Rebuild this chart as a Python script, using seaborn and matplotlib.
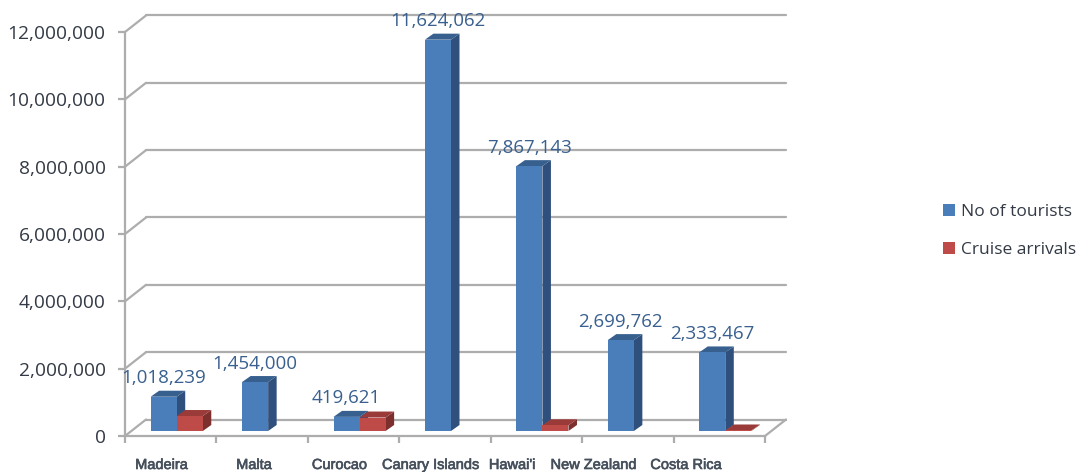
import numpy as np
import pandas as pd
import matplotlib
matplotlib.use("Agg")
import matplotlib.pyplot as plt
import matplotlib.patheffects as pe
from matplotlib.patches import Patch, Polygon
import seaborn as sns

categories = ["Madeira", "Malta", "Curocao", "Canary Islands", "Hawai'i", "New Zealand", "Costa Rica"]
tourists = [1018239, 1454000, 419621, 11624062, 7867143, 2699762, 2333467]
cruise = [445000, np.nan, 400000, np.nan, 170000, np.nan, 15000]
y_ticks = [0, 2000000, 4000000, 6000000, 8000000, 10000000, 12000000]
series_names = ["No of tourists", "Cruise arrivals"]

# horizontal nudges (px) of the category labels, as in the source image
x_label_shift = [-9, -8, -14, -14, -24, -34, -33]

W, H = 1084, 472
BLUE, BLUE_SIDE, BLUE_TOP = "#4A7EBB", "#2F4F7C", "#37608F"
RED, RED_SIDE, RED_TOP = "#BE4B48", "#7C2F2D", "#9A3B39"
GRID = "#ADADAD"
FONT = "Open Sans"

sns.set_theme(style="white")
plt.rcParams["font.family"] = [FONT, "DejaVu Sans"]
fig = plt.figure(figsize=(W / 100, H / 100), dpi=100, facecolor="white")


def rect(l, r, t, b):
    return [l / W, (H - b) / H, (r - l) / W, (b - t) / H]


# front plane of the 3-D box: holds the axis, ticks and walls
frame = fig.add_axes(rect(125, 765, 32, 436))
# bar plane, set slightly back into the box
ax = fig.add_axes(rect(131, 771, 27, 431))
ax.patch.set_alpha(0)

xlim = (-0.5, len(categories) - 0.5)
ylim = (0, 12000000)
px_x = (xlim[1] - xlim[0]) / 640
px_y = (ylim[1] - ylim[0]) / 404

# box frame
frame.set_xlim(xlim)
frame.set_ylim(ylim)
dx, dy = 21 * px_x, 16.5 * px_y
for v in y_ticks:
    frame.plot([xlim[0], xlim[0] + dx], [v, v + dy], color=GRID, lw=1.6, clip_on=False)
    frame.plot([xlim[0] + dx, xlim[1] + dx], [v + dy, v + dy], color=GRID, lw=1.6, clip_on=False)
frame.plot([xlim[1], xlim[1] + dx], [0, dy], color=GRID, lw=1.6, clip_on=False)
for name in ["top", "right"]:
    frame.spines[name].set_visible(False)
for name in ["left", "bottom"]:
    frame.spines[name].set_color(GRID)
    frame.spines[name].set_linewidth(1.6)
frame.set_yticks(y_ticks)
frame.set_yticklabels([f"{v:,}" for v in y_ticks], fontsize=13.8, color="#333A45")
frame.set_xticks(np.arange(xlim[0], xlim[1] + 0.5))
frame.set_xticklabels([])
frame.tick_params(axis="both", length=5, width=1.6, color=GRID, left=True, bottom=True)
frame.tick_params(axis="y", pad=9)
for i, name in enumerate(categories):
    frame.annotate(name, (i, 0), xytext=(x_label_shift[i] * 0.72, -29 * 0.72), textcoords="offset points",
                   ha="center", va="center", fontsize=10.5, color="#46505C",
                   family="Liberation Sans", annotation_clip=False,
                   path_effects=[pe.withStroke(linewidth=0.45, foreground="#46505C")])

# bars
df = pd.DataFrame({"category": categories, series_names[0]: tourists, series_names[1]: cruise})
long_df = df.melt(id_vars="category", var_name="series", value_name="value").dropna()
sns.barplot(data=long_df, x="category", y="value", hue="series", hue_order=series_names,
            order=categories, palette=[BLUE, RED], width=0.57, gap=0, saturation=1,
            legend=False, ax=ax)
ax.set_xlim(xlim)
ax.set_ylim(ylim)
ax.axis("off")

# 3-D side and top faces derived from each drawn bar
bx, by = 8.5 * px_x, 6 * px_y
for container, side, top, z in zip(ax.containers, (BLUE_SIDE, RED_SIDE), (BLUE_TOP, RED_TOP), (2.0, 2.4)):
    for bar in container:
        h = bar.get_height()
        if not h > 0:
            continue
        bar.set_zorder(3)
        bar.set_linewidth(0)
        x0, x1 = bar.get_x(), bar.get_x() + bar.get_width()
        ax.add_patch(Polygon([(x1, 0), (x1 + bx, by), (x1 + bx, h + by), (x1, h)],
                             closed=True, fc=side, ec="none", zorder=z, clip_on=False))
        ax.add_patch(Polygon([(x0, h), (x0 + bx, h + by), (x1 + bx, h + by), (x1, h)],
                             closed=True, fc=top, ec="none", zorder=z + 0.1, clip_on=False))

# data labels for the first series
for i, v in enumerate(tourists):
    x = i - 0.57 / 4
    ax.annotate(f"{v:,}", (x, v), xytext=(0, 18.5 * 0.72), textcoords="offset points",
                ha="center", va="center", fontsize=13.5, color="#39608F", zorder=6, annotation_clip=False)

handles = [Patch(fc=BLUE, ec="none"), Patch(fc=RED, ec="none")]
fig.legend(handles, series_names, loc="center left", bbox_to_anchor=(938 / W, 1 - 231 / H),
           frameon=False, fontsize=12.5, labelcolor="#333A45", handlelength=0.68, handleheight=0.68,
           handletextpad=0.35, labelspacing=1.25, borderpad=0, borderaxespad=0.3)

fig.savefig("out.png", dpi=100, facecolor="white")
